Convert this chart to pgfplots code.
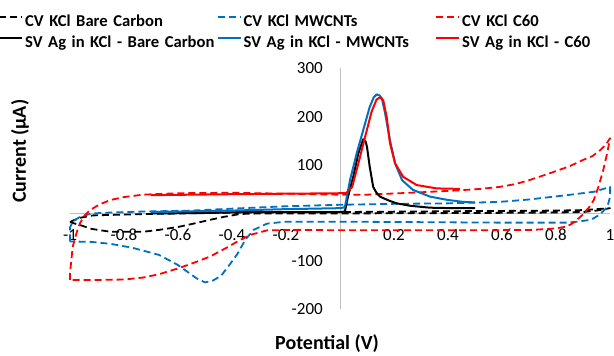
\documentclass[border=0pt]{standalone}
\usepackage{fontspec}
\setmainfont{Carlito}
\usepackage{pgfplots}
\pgfplotsset{compat=1.18}
\definecolor{xlblue}{RGB}{0,112,192}
\definecolor{xlred}{RGB}{255,0,0}
\definecolor{axgray}{RGB}{191,191,191}
\begin{document}
\begin{tikzpicture}
\begin{axis}[
 at={(340pt,143pt)}, anchor=origin,
 scale only axis, width=540pt, height=241pt,
 xmin=-1, xmax=1, ymin=-200, ymax=300, enlargelimits=false,
 clip=false,
 axis lines=middle,
 axis line style={-, draw=axgray, line width=0.9pt},
 xtick={-1,-0.8,-0.6,-0.4,-0.2,0,0.2,0.4,0.6,0.8,1},
 xticklabels={-1,-0.8,-0.6,-0.4,-0.2,0,0.2,0.4,0.6,0.8,1},
 ytick={-200,-100,0,100,200,300},
 yticklabels={-200,-100,0,100,200,300},
 major tick length=0pt,
 tick style={draw=none},
 ticklabel style={font=\fontsize{17}{20}\selectfont},
 xticklabel style={anchor=north, inner sep=0pt, yshift=-16pt},
 yticklabel style={anchor=east, inner sep=0pt, xshift=-17pt},
 xlabel={Potential (V)}, ylabel={Current (μA)},
 xlabel style={at={(axis description cs:0.476,-0.142)}, anchor=center, font=\fontsize{20}{24}\selectfont\bfseries},
 ylabel style={at={(axis description cs:-0.0926,0.656)}, anchor=center, rotate=90, font=\fontsize{20}{24}\selectfont\bfseries},
 legend columns=3,
 legend cell align=left,
 legend style={at={(axis description cs:-0.1333,1.2365)}, anchor=north west, draw=none, fill=none, inner sep=0pt, column sep=0pt, row sep=0pt, font=\fontsize{16.6}{19}\selectfont\bfseries, nodes={inner xsep=2pt, inner ysep=1pt, text height=13.5pt, text depth=5.5pt, text width=189.5pt, align=left}},
 legend image code/.code={\draw[#1] (0pt,5.5pt) -- (23pt,5.5pt);},
 cvstyle/.style={dash pattern=on 7pt off 4pt, line width=1.8pt, line join=round},
 svstyle/.style={line width=2.0pt, line join=round},
]
% CV KCl Bare Carbon
\addplot[black, cvstyle] coordinates {
(-1,-19) (-0.99,-16) (-0.963,-10) (-0.915,-5) (-0.85,-4) (-0.7,-2) (-0.5,0) (-0.37,1) (0,2) (0.5,4) (0.8,5) (0.9,6) (1,10)
(0.95,5) (0.9,2) (0.8,1) (0.5,0) (0,-1) (-0.3,-1) (-0.37,-2) (-0.43,-8) (-0.48,-14) (-0.55,-23) (-0.6,-29) (-0.67,-35)
(-0.73,-39) (-0.85,-39) (-0.92,-33) (-0.963,-25) (-1,-19)};
\addlegendentry{\mbox{CV KCl Bare Carbon}}
% CV KCl MWCNTs
\addplot[xlblue, cvstyle] coordinates {
(-1,-59) (-1,-30) (-0.99,-18) (-0.963,-8) (-0.92,-1) (-0.85,1) (-0.73,3) (-0.55,5) (-0.4,9) (-0.2,14) (0,17) (0.2,19)
(0.4,20) (0.59,23) (0.7,28) (0.84,37) (0.94,44) (1,54) (1,33) (0.99,12) (0.96,-4) (0.93,-14) (0.88,-18) (0.84,-20)
(0.6,-20) (0.3,-19) (0,-18) (-0.2,-18) (-0.27,-22) (-0.32,-35) (-0.35,-55) (-0.38,-85) (-0.41,-108) (-0.44,-130)
(-0.47,-140) (-0.5,-144) (-0.53,-136) (-0.56,-124) (-0.6,-108) (-0.67,-87) (-0.77,-72) (-0.85,-64) (-0.92,-60) (-1,-59)};
\addlegendentry{\mbox{CV KCl MWCNTs}}
% CV KCl C60
\addplot[xlred, cvstyle] coordinates {
(-1,-139) (-1,-125) (-0.99,-70) (-0.975,-40) (-0.963,-21) (-0.945,-5) (-0.926,6) (-0.89,18) (-0.85,27) (-0.8,33)
(-0.73,38) (-0.6,41) (-0.4,42) (-0.2,40) (0,38) (0.1,38) (0.22,41) (0.3,43) (0.44,47) (0.52,50) (0.59,54) (0.65,60)
(0.7,68) (0.78,83) (0.85,97) (0.9,110) (0.935,118) (0.963,130) (0.985,142) (1,155) (0.99,125) (0.975,89) (0.957,54)
(0.94,27) (0.92,10) (0.9,-3) (0.88,-13) (0.86,-22) (0.84,-28) (0.8,-32) (0.715,-35) (0.5,-36) (0.2,-36) (0,-36)
(-0.15,-35) (-0.27,-36) (-0.33,-45) (-0.37,-56) (-0.42,-72) (-0.48,-90) (-0.54,-103) (-0.6,-115) (-0.67,-127)
(-0.73,-134) (-0.8,-138) (-0.9,-139) (-1,-139)};
\addlegendentry{\mbox{CV KCl C60}}
% SV Ag in KCl - Bare Carbon
\addplot[black, svstyle] coordinates {
(-0.70,-1) (-0.5,0) (-0.35,2) (0,2) (0.018,3) (0.03,35) (0.049,75) (0.068,124) (0.086,153) (0.095,148) (0.1,137)
(0.11,96) (0.123,54) (0.135,42) (0.148,34) (0.18,26) (0.21,20) (0.26,15) (0.333,11) (0.42,10) (0.5,10)};
\addlegendentry{\mbox{SV Ag in KCl - Bare Carbon}}
% SV Ag in KCl - MWCNTs
\addplot[xlblue, svstyle] coordinates {
(-0.70,2) (-0.4,5) (-0.2,8) (0,10) (0.018,12) (0.037,68) (0.062,124) (0.086,172) (0.11,220) (0.125,240) (0.136,246)
(0.146,244) (0.155,238) (0.167,207) (0.185,151) (0.204,103) (0.23,68) (0.27,48) (0.333,34) (0.4,27) (0.457,23) (0.5,22)};
\addlegendentry{\mbox{SV Ag in KCl - MWCNTs}}
% SV Ag in KCl - C60
\addplot[xlred, svstyle] coordinates {
(-0.70,37) (-0.4,39) (0,41) (0.022,41) (0.045,54) (0.068,103) (0.093,158) (0.117,210) (0.135,235) (0.148,240)
(0.16,234) (0.173,199) (0.185,145) (0.204,103) (0.234,75) (0.284,58) (0.358,51) (0.444,50)};
\addlegendentry{\mbox{SV Ag in KCl - C60}}
\end{axis}
\pgfresetboundingbox
\path[use as bounding box] (0pt,0pt) rectangle (614pt,356pt);
\end{tikzpicture}
\end{document}
